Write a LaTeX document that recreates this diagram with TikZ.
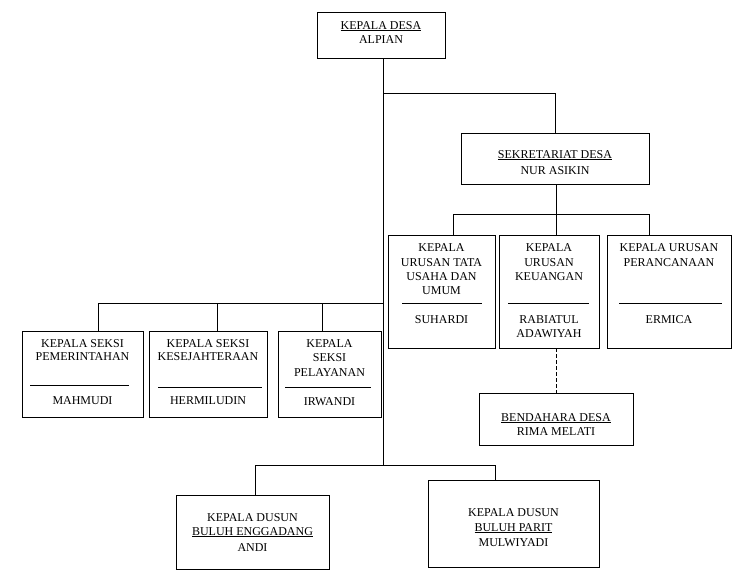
\documentclass[tikz,border=0pt]{standalone}
\usepackage{fontspec}
\setmainfont{Liberation Serif}
\begin{document}
\begin{tikzpicture}[x=1pt,y=-1pt,
  box/.style={draw,line width=0.9pt,rectangle,anchor=north west,inner sep=0pt,outer sep=0pt},
  lbl/.style={font=\fontsize{12}{14}\selectfont,inner sep=0pt,anchor=base},
  conn/.style={line width=0.9pt},
  sepline/.style={line width=0.8pt},
  dashconn/.style={line width=0.9pt,dash pattern=on 4pt off 2pt}]
\useasboundingbox (0,0) rectangle (739,579);
\fill[white] (0,0) rectangle (739,579);

% boxes: name, left, top, width, height
\newcommand\orgbox[5]{\node[box,minimum width=#4,minimum height=#5] (#1) at (#2,#3) {};}
% text lines: name, x, baseline y, text
\newcommand\txt[4]{\node[lbl] (#1) at (#2,#3) {#4};}

\orgbox{kd}{317}{12}{128}{46}
\orgbox{sek}{461}{133}{188}{51}
\orgbox{tu}{388}{235}{107}{113}
\orgbox{ku}{499}{235}{100}{113}
\orgbox{pr}{607}{235}{124}{113}
\orgbox{bd}{479}{393}{154}{52}
\orgbox{pm}{22}{331}{121}{86}
\orgbox{ks}{149}{331}{118}{86}
\orgbox{pl}{278}{331}{103}{86}
\orgbox{d1}{176}{495}{153}{74}
\orgbox{d2}{428}{480}{171}{87}

% Kepala Desa
\txt{kd1}{381}{29}{\underline{KEPALA DESA}}
\txt{kd2}{381}{43}{ALPIAN}
% Sekretariat
\txt{sek1}{555}{158}{\underline{SEKRETARIAT DESA}}
\txt{sek2}{555}{174}{NUR ASIKIN}
% Tata Usaha dan Umum
\txt{tu1}{441.5}{251}{KEPALA}
\txt{tu2}{441.5}{266}{URUSAN TATA}
\txt{tu3}{441.5}{280}{USAHA DAN}
\txt{tu4}{441.5}{294}{UMUM}
\txt{tu5}{441.5}{323}{SUHARDI}
\draw[sepline] (402,303) -- (482,303);
% Keuangan
\txt{ku1}{549}{251}{KEPALA}
\txt{ku2}{549}{266}{URUSAN}
\txt{ku3}{549}{280}{KEUANGAN}
\txt{ku4}{549}{323}{RABIATUL}
\txt{ku5}{549}{337}{ADAWIYAH}
\draw[sepline] (508,303) -- (589,303);
% Perancanaan
\txt{pr1}{669}{251}{KEPALA URUSAN}
\txt{pr2}{669}{266}{PERANCANAAN}
\txt{pr3}{669}{323}{ERMICA}
\draw[sepline] (619,303) -- (722,303);
% Bendahara
\txt{bd1}{556}{421}{\underline{BENDAHARA DESA}}
\txt{bd2}{556}{435}{RIMA MELATI}
% Seksi Pemerintahan
\txt{pm1}{82.5}{347}{KEPALA SEKSI}
\txt{pm2}{82.5}{360}{PEMERINTAHAN}
\txt{pm3}{82.5}{404}{MAHMUDI}
\draw[sepline] (30,385) -- (129,385);
% Seksi Kesejahteraan
\txt{ks1}{208}{347}{KEPALA SEKSI}
\txt{ks2}{208}{360}{KESEJAHTERAAN}
\txt{ks3}{208}{404}{HERMILUDIN}
\draw[sepline] (158,387) -- (262,387);
% Seksi Pelayanan
\txt{pl1}{329.5}{347}{KEPALA}
\txt{pl2}{329.5}{361}{SEKSI}
\txt{pl3}{329.5}{376}{PELAYANAN}
\txt{pl4}{329.5}{405}{IRWANDI}
\draw[sepline] (285,387) -- (371,387);
% Dusun
\txt{da1}{252.5}{521}{KEPALA DUSUN}
\txt{da2}{252.5}{535}{\underline{BULUH ENGGADANG}}
\txt{da3}{252.5}{551}{ANDI}
\txt{db1}{513.5}{516}{KEPALA DUSUN}
\txt{db2}{513.5}{531}{\underline{BULUH PARIT}}
\txt{db3}{513.5}{546}{MULWIYADI}

% junction points
\coordinate (jA) at (383,93);
\coordinate (jL) at (383,303);
\coordinate (jB) at (383,465);
\coordinate (sL) at (453,214);
\coordinate (sM) at (556,214);
\coordinate (sR) at (649,214);
\coordinate (lA) at (98,303);
\coordinate (lB) at (217,303);
\coordinate (lC) at (322,303);
\coordinate (bA) at (255,465);
\coordinate (bB) at (495,465);

% main spine
\draw[conn] (kd.south -| jA) -- (jB);
\draw[conn] (jA) -| (sek.north);
% secretariat branches
\draw[conn] (sek.south -| sM) -- (sM);
\draw[conn] (sL) -- (sR);
\draw[conn] (sL) -- (sL |- tu.north);
\draw[conn] (sM) -- (sM |- ku.north);
\draw[conn] (sR) -- (sR |- pr.north);
\draw[dashconn] (bd.north |- ku.south) -- (bd.north);
% seksi branches
\draw[conn] (lA) -- (jL);
\draw[conn] (lA) -- (lA |- pm.north);
\draw[conn] (lB) -- (lB |- ks.north);
\draw[conn] (lC) -- (lC |- pl.north);
% dusun branches
\draw[conn] (bA) -- (bB);
\draw[conn] (bA) -- (bA |- d1.north);
\draw[conn] (bB) -- (bB |- d2.north);
\end{tikzpicture}
\end{document}
